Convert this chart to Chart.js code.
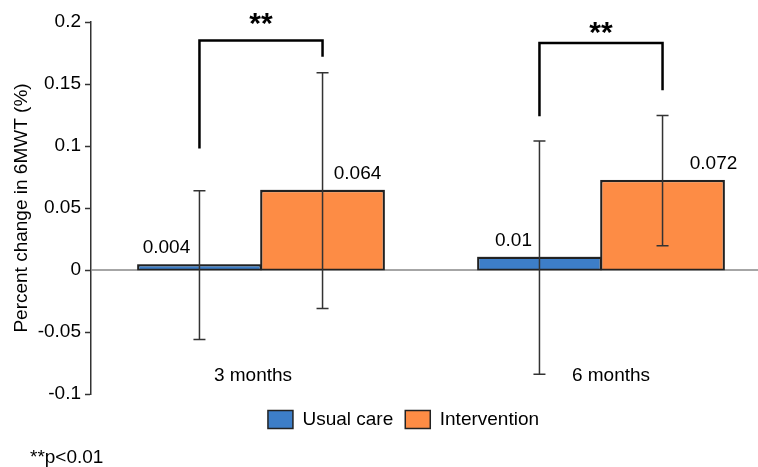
<!DOCTYPE html>
<html>
<head>
<meta charset="utf-8">
<script src="https://cdn.jsdelivr.net/npm/chart.js@4/dist/chart.umd.min.js"></script>
<style>
  html, body { margin: 0; padding: 0; background: #fff; }
  #wrap { width: 758px; height: 467px; overflow: hidden; position: relative; }
</style>
</head>
<body>
<div id="wrap"><canvas id="chart" width="790" height="467"></canvas></div>
<script>
/* ── Data ─────────────────────────────────────────── */
const CATEGORIES   = ['3 months', '6 months'];
const SERIES       = ['Usual care', 'Intervention'];
const USUAL        = [0.004, 0.01];
const INTERVENTION = [0.064, 0.072];
const USUAL_ERR    = [0.060, 0.094];
const INTERV_ERR   = [0.095, 0.0525];
const Y_TICKS      = [-0.1, -0.05, 0, 0.05, 0.1, 0.15, 0.2];

// significance brackets (values on the y scale)
const BRACKET_TOP       = [0.185, 0.183];
const BRACKET_LEFT_END  = [0.098, 0.124];
const BRACKET_RIGHT_END = [0.172, 0.145];
const SIG_LABELS        = ['**', '**'];
const FOOTNOTE          = '**p<0.01';

const BLUE   = '#3d7ec8';
const ORANGE = '#fd8c45';
const EDGE   = '#222';
const FONT   = "'Liberation Sans', Arial, sans-serif";

Chart.defaults.font.family = FONT;
Chart.defaults.color = '#000';

/* ── Annotation plugin: error bars, labels, brackets ─ */
const annotate = {
    id: 'annotate',
    beforeDraw(chart) {
        // nudge the legend to where the original sits
        const lg = chart.legend;
        lg.left += 13; lg.right += 13;
        lg.top += 4; lg.bottom += 4;
    },
    afterDatasetsDraw(chart) {
        const ctx = chart.ctx;
        const y = chart.scales.y;
        const errs = [USUAL_ERR, INTERV_ERR];
        const labelDx = [[-33, 35], [-26, 51]];
        const centers = [[], []];

        ctx.save();
        // zero line
        ctx.strokeStyle = '#888';
        ctx.lineWidth = 1.5;
        ctx.beginPath();
        ctx.moveTo(chart.chartArea.left, y.getPixelForValue(0));
        ctx.lineTo(chart.chartArea.right, y.getPixelForValue(0));
        ctx.stroke();

        chart.data.datasets.forEach((ds, di) => {
            chart.getDatasetMeta(di).data.forEach((bar, i) => {
                const v = ds.data[i];
                const e = errs[di][i];
                const x = bar.x;
                centers[di][i] = x;

                // bar outline redraw over zero line
                ctx.strokeStyle = EDGE;
                ctx.lineWidth = 1.5;
                ctx.strokeRect(bar.x - bar.width / 2, bar.y, bar.width, bar.base - bar.y);

                // error bar
                const yHi = y.getPixelForValue(v + e);
                const yLo = y.getPixelForValue(v - e);
                ctx.strokeStyle = '#333';
                ctx.lineWidth = 1.5;
                ctx.beginPath();
                ctx.moveTo(x, yHi); ctx.lineTo(x, yLo);
                ctx.moveTo(x - 6, yHi); ctx.lineTo(x + 6, yHi);
                ctx.moveTo(x - 6, yLo); ctx.lineTo(x + 6, yLo);
                ctx.stroke();

                // value label
                ctx.fillStyle = '#000';
                ctx.font = '19px ' + FONT;
                ctx.textAlign = 'center';
                ctx.textBaseline = 'middle';
                ctx.fillText(String(v), x + labelDx[i][di], bar.y - 17);
            });
        });

        // brackets
        CATEGORIES.forEach((c, i) => {
            const xl = centers[0][i], xr = centers[1][i];
            const yt = y.getPixelForValue(BRACKET_TOP[i]);
            ctx.strokeStyle = '#000';
            ctx.lineWidth = 2.5;
            ctx.beginPath();
            ctx.moveTo(xl, y.getPixelForValue(BRACKET_LEFT_END[i]));
            ctx.lineTo(xl, yt);
            ctx.lineTo(xr, yt);
            ctx.lineTo(xr, y.getPixelForValue(BRACKET_RIGHT_END[i]));
            ctx.stroke();

            ctx.fillStyle = '#000';
            ctx.font = 'bold 30px ' + FONT;
            ctx.textAlign = 'center';
            ctx.textBaseline = 'alphabetic';
            ctx.fillText(SIG_LABELS[i], (xl + xr) / 2, yt + (i === 0 ? -8 : -1));

            // category label
            const cx = chart.scales.x.getPixelForValue(i);
            ctx.font = '19px ' + FONT;
            ctx.textBaseline = 'middle';
            ctx.fillText(c, cx + (i === 0 ? -8 : 10), y.getPixelForValue(-0.085));
        });

        // footnote
        ctx.font = '19px ' + FONT;
        ctx.textAlign = 'left';
        ctx.textBaseline = 'alphabetic';
        ctx.fillText(FOOTNOTE, 30, 463);
        ctx.restore();
    }
};

new Chart(document.getElementById('chart'), {
    type: 'bar',
    data: {
        labels: CATEGORIES,
        datasets: [
            { label: SERIES[0], data: USUAL,        backgroundColor: BLUE,   borderColor: EDGE, borderWidth: 1.5 },
            { label: SERIES[1], data: INTERVENTION, backgroundColor: ORANGE, borderColor: EDGE, borderWidth: 1.5 },
        ]
    },
    options: {
        responsive: false,
        animation: false,
        categoryPercentage: 0.724,
        barPercentage: 1,
        layout: { padding: { top: 22, left: 10, right: 19, bottom: 32 } },
        plugins: {
            legend: {
                position: 'bottom',
                labels: { font: { size: 19 }, boxWidth: 25, boxHeight: 18, padding: 12, color: '#000' }
            },
            tooltip: { enabled: false }
        },
        scales: {
            x: { display: false },
            y: {
                min: -0.1, max: 0.2,
                afterBuildTicks: s => { s.ticks = Y_TICKS.map(v => ({ value: v })); },
                afterFit: s => { s.width = 81; },
                ticks: {
                    font: { size: 19 }, color: '#000', padding: 4,
                    callback: v => String(Number(v.toFixed(2)))
                },
                grid: { drawOnChartArea: false, tickLength: 6, tickColor: '#333', tickWidth: 1.5 },
                border: { display: true, color: '#333', width: 1.5 },
                title: { display: true, text: 'Percent change in 6MWT (%)', font: { size: 19 }, color: '#000', padding: 0 }
            }
        }
    },
    plugins: [annotate]
});
</script>
</body>
</html>
